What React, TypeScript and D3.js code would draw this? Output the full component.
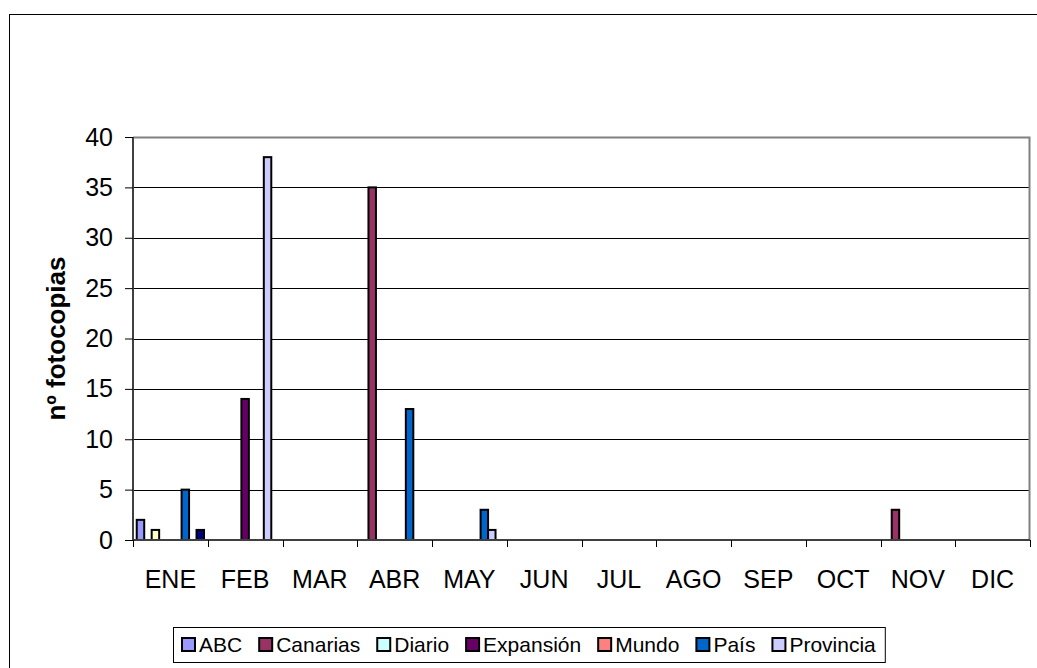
/**
 * Monthly photocopy counts per newspaper, drawn as a grouped bar chart.
 */
import React, {useEffect, useRef} from 'react';
import * as d3 from 'd3';

const months = ['ENE', 'FEB', 'MAR', 'ABR', 'MAY', 'JUN', 'JUL', 'AGO', 'SEP', 'OCT', 'NOV', 'DIC'];

const abc = [2, 0, 0, 0, 0, 0, 0, 0, 0, 0, 0, 0];
const canarias = [0, 0, 0, 35, 0, 0, 0, 0, 0, 0, 3, 0];
const serieSinNombre1 = [1, 0, 0, 0, 0, 0, 0, 0, 0, 0, 0, 0];
const diario = [0, 0, 0, 0, 0, 0, 0, 0, 0, 0, 0, 0];
const expansion = [0, 14, 0, 0, 0, 0, 0, 0, 0, 0, 0, 0];
const mundo = [0, 0, 0, 0, 0, 0, 0, 0, 0, 0, 0, 0];
const pais = [5, 0, 0, 13, 3, 0, 0, 0, 0, 0, 0, 0];
const provincia = [0, 38, 0, 0, 1, 0, 0, 0, 0, 0, 0, 0];
const serieSinNombre2 = [1, 0, 0, 0, 0, 0, 0, 0, 0, 0, 0, 0];

const yTicks = [0, 5, 10, 15, 20, 25, 30, 35, 40];

interface Serie {
  name: string;
  values: number[];
  color: string;
  legend: boolean;
}

const series: Serie[] = [
  {name: 'ABC', values: abc, color: '#9999FF', legend: true},
  {name: 'Canarias', values: canarias, color: '#993366', legend: true},
  {name: 'Serie 3', values: serieSinNombre1, color: '#FFFFCC', legend: false},
  {name: 'Diario', values: diario, color: '#CCFFFF', legend: true},
  {name: 'Expansión', values: expansion, color: '#660066', legend: true},
  {name: 'Mundo', values: mundo, color: '#FF8080', legend: true},
  {name: 'País', values: pais, color: '#0066CC', legend: true},
  {name: 'Provincia', values: provincia, color: '#CCCCFF', legend: true},
  {name: 'Serie 9', values: serieSinNombre2, color: '#000080', legend: false},
];

const FONT = 'Arial, "Liberation Sans", sans-serif';
const W = 1037;
const H = 668;

export default function App() {
  const svgRef = useRef<SVGSVGElement>(null);

  useEffect(() => {
    if (!svgRef.current) return;
    const svg = d3.select(svgRef.current);
    svg.selectAll('*').remove();

    const plot = {left: 133, top: 137, right: 1030, bottom: 540};

    // chart area border (runs past the window on right and bottom)
    svg
      .append('rect')
      .attr('x', 9.5)
      .attr('y', 14.5)
      .attr('width', 1045)
      .attr('height', 680)
      .attr('fill', '#fff')
      .attr('stroke', '#000')
      .attr('stroke-width', 1);

    const x = d3
      .scaleBand<string>()
      .domain(months)
      .range([plot.left, plot.right]);

    const xInner = d3
      .scaleBand<string>()
      .domain(series.map((s) => s.name))
      .range([0, x.bandwidth()])
      .paddingOuter(0.5)
      .paddingInner(0);

    const y = d3.scaleLinear().domain([0, 40]).range([plot.bottom, plot.top]);

    // grid lines
    svg
      .append('g')
      .selectAll('line')
      .data(yTicks.filter((t) => t > 0 && t < 40))
      .enter()
      .append('line')
      .attr('x1', plot.left)
      .attr('x2', plot.right)
      .attr('y1', (d) => Math.round(y(d)) + 0.5)
      .attr('y2', (d) => Math.round(y(d)) + 0.5)
      .attr('stroke', '#000')
      .attr('stroke-width', 1.2);

    // plot border top / right
    svg
      .append('path')
      .attr('d', `M${plot.left},${plot.top + 0.5}H${plot.right - 0.5}V${plot.bottom}`)
      .attr('fill', 'none')
      .attr('stroke', '#808080')
      .attr('stroke-width', 2);

    // bars
    series.forEach((s) => {
      svg
        .append('g')
        .selectAll('rect')
        .data(s.values.map((v, i) => ({m: months[i], v})).filter((d) => d.v > 0))
        .enter()
        .append('rect')
        .attr('x', (d) => (x(d.m) || 0) + (xInner(s.name) || 0))
        .attr('width', xInner.bandwidth())
        .attr('y', (d) => y(d.v))
        .attr('height', (d) => y(0) - y(d.v))
        .attr('fill', s.color)
        .attr('stroke', '#000')
        .attr('stroke-width', 2);
    });

    // y axis
    const yAxis = svg
      .append('g')
      .attr('transform', `translate(${plot.left},0)`)
      .call(d3.axisLeft(y).tickValues(yTicks).tickSize(8).tickPadding(12));
    yAxis.select('.domain').attr('stroke', '#404040').attr('stroke-width', 2).attr('d', `M0,${plot.top}V${plot.bottom}`);
    yAxis.selectAll('.tick line').attr('stroke', '#000');
    yAxis
      .selectAll('text')
      .attr('font-family', FONT)
      .attr('font-size', 25)
      .attr('fill', '#000');

    // x axis
    const xAxis = svg
      .append('g')
      .attr('transform', `translate(0,${plot.bottom})`)
      .call(d3.axisBottom(x).tickSize(0).tickPadding(30));
    xAxis.select('.domain').attr('stroke', '#404040').attr('stroke-width', 2).attr('d', `M${plot.left},0H${plot.right}`);
    xAxis
      .selectAll('text')
      .attr('font-family', FONT)
      .attr('font-size', 25)
      .attr('fill', '#000');

    // category separators below the axis
    svg
      .append('g')
      .selectAll('line')
      .data(months.map((m) => x(m) || 0).concat([plot.right]))
      .enter()
      .append('line')
      .attr('x1', (d) => Math.round(d) + 0.5)
      .attr('x2', (d) => Math.round(d) + 0.5)
      .attr('y1', plot.bottom)
      .attr('y2', plot.bottom + 7)
      .attr('stroke', '#000');

    // y axis title
    svg
      .append('text')
      .attr('transform', `translate(65,${(plot.top + plot.bottom) / 2}) rotate(-90)`)
      .attr('text-anchor', 'middle')
      .attr('font-family', FONT)
      .attr('font-size', 26)
      .attr('font-weight', 'bold')
      .text('nº fotocopias');

    // legend
    const legendItems = series.filter((s) => s.legend);
    const legend = svg.append('g');
    const box = legend
      .append('rect')
      .attr('fill', '#fff')
      .attr('stroke', '#000')
      .attr('stroke-width', 1);
    const pad = 9;
    const sw = 13;
    let cursor = pad;
    legendItems.forEach((s) => {
      legend
        .append('rect')
        .attr('x', cursor)
        .attr('y', 11)
        .attr('width', sw)
        .attr('height', sw)
        .attr('fill', s.color)
        .attr('stroke', '#000')
        .attr('stroke-width', 2);
      const t = legend
        .append('text')
        .attr('x', cursor + sw + 4)
        .attr('y', 25)
        .attr('font-family', FONT)
        .attr('font-size', 21)
        .text(s.name);
      const tw = (t.node() as SVGTextElement).getComputedTextLength();
      cursor += sw + 4 + tw + 17;
    });
    const boxW = cursor - 17 + pad;
    box.attr('x', 0.5).attr('y', 0.5).attr('width', boxW).attr('height', 35);
    legend.attr('transform', `translate(${Math.round(529 - boxW / 2)},627)`);
  }, []);

  return (
    <svg
      ref={svgRef}
      width={W}
      height={H}
      style={{position: 'absolute', left: 0, top: 0, background: '#fff'}}
    />
  );
}
